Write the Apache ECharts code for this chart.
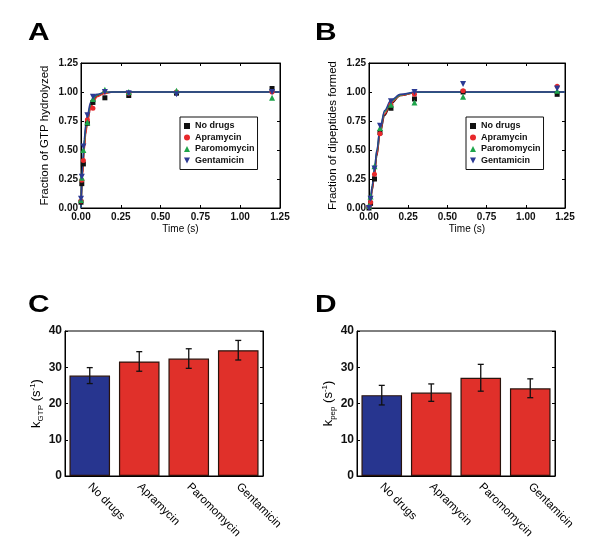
<!DOCTYPE html>
<html><head><meta charset="utf-8">
<script src="https://cdn.jsdelivr.net/npm/echarts@6/dist/echarts.min.js"></script>
<style>html,body{margin:0;padding:0;background:#fff}#c{width:600px;height:558px}</style>
</head><body><div id="c"></div>
<script>
// ---------- data ----------
const seriesNames = ['No drugs', 'Apramycin', 'Paromomycin', 'Gentamicin'];
const panelLetters = ['A', 'B', 'C', 'D'];
// Panel A: GTP hydrolysis time course
const timeA = [0, 0.005, 0.015, 0.04, 0.075, 0.15, 0.3, 0.6, 1.2];
const noDrugsA = [0.05, 0.21, 0.38, 0.73, 0.91, 0.95, 0.97, 0.99, 1.03];
const apramycinA = [0.06, 0.24, 0.41, 0.76, 0.86, 1.00, 0.99, 1.00, 1.00];
const paromomycinA = [0.07, 0.26, 0.50, 0.74, 0.94, 1.02, 1.00, 1.01, 0.95];
const gentamicinA = [0.08, 0.27, 0.53, 0.80, 0.96, 1.00, 0.99, 0.98, 1.00];
// fitted curves A
const fitTimeA = [0, 0.01, 0.02, 0.03, 0.04, 0.06, 0.08, 0.1, 0.15, 0.2, 0.3, 1.25];
const fitNoDrugsA = [0, 0.30, 0.52, 0.66, 0.75, 0.87, 0.93, 0.965, 0.993, 1, 1, 1];
const fitApramycinA = [0, 0.29, 0.50, 0.64, 0.74, 0.86, 0.92, 0.96, 0.99, 1, 1, 1];
const fitParomomycinA = [0, 0.34, 0.56, 0.69, 0.78, 0.89, 0.95, 0.975, 0.996, 1, 1, 1];
const fitGentamicinA = [0, 0.37, 0.59, 0.72, 0.80, 0.91, 0.96, 0.98, 0.997, 1, 1, 1];
// Panel B: dipeptide formation time course
const timeB = [0, 0.01, 0.035, 0.07, 0.14, 0.29, 0.6, 1.2];
const noDrugsB = [0.00, 0.04, 0.25, 0.65, 0.86, 0.94, 1.00, 0.98];
const apramycinB = [0.01, 0.05, 0.29, 0.64, 0.89, 0.98, 1.01, 1.05];
const paromomycinB = [0.02, 0.10, 0.36, 0.69, 0.89, 0.91, 0.96, 1.01];
const gentamicinB = [0.00, 0.08, 0.34, 0.71, 0.92, 1.00, 1.07, 1.03];
const fitTimeB = [0, 0.01, 0.02, 0.035, 0.05, 0.07, 0.1, 0.14, 0.2, 0.3, 1.25];
const fitNoDrugsB = [0, 0.06, 0.15, 0.29, 0.45, 0.64, 0.80, 0.90, 0.97, 0.997, 1];
const fitApramycinB = [0, 0.06, 0.16, 0.30, 0.46, 0.65, 0.81, 0.91, 0.97, 0.997, 1];
const fitParomomycinB = [0, 0.08, 0.19, 0.34, 0.49, 0.68, 0.83, 0.92, 0.975, 0.998, 1];
const fitGentamicinB = [0, 0.08, 0.19, 0.34, 0.50, 0.69, 0.84, 0.93, 0.98, 1, 1];
// Panels C, D: rates
const categories = ['No drugs', 'Apramycin', 'Paromomycin', 'Gentamicin'];
const kGTP = [27.7, 31.6, 32.4, 34.7];
const kGTPErr = [2.2, 2.7, 2.7, 2.7];
const kPep = [22.3, 23.0, 27.1, 24.2];
const kPepErr = [2.7, 2.4, 3.7, 2.6];
const timeTicks = [0, 0.25, 0.5, 0.75, 1.0, 1.25];
const fracTicks = [0, 0.25, 0.5, 0.75, 1.0, 1.25];
const rateTicks = [0, 10, 20, 30, 40];

// ---------- styling ----------
const FONT = 'Liberation Sans, Arial, Helvetica, sans-serif';
const colors = ['#111111', '#e8282b', '#1ea54b', '#2c3a94'];
const symbols = ['rect', 'circle', 'triangle', 'path://M0,0L10,0L5,10Z'];
const symSizes = [5, 5, 6, 6];
const barBlue = '#27358f', barRed = '#e0302a';

const grids = [
  {left: 81, top: 63, width: 199, height: 145},
  {left: 369, top: 63, width: 196, height: 145},
  {left: 65, top: 331, width: 198, height: 145},
  {left: 357, top: 331, width: 198, height: 145}
].map(g => Object.assign({show: true, borderColor: '#000', borderWidth: 1, containLabel: false}, g));

const lbl = {fontFamily: FONT, fontSize: 10, color: '#111', fontWeight: 'bold'};
const nameStyle = {fontFamily: FONT, fontSize: 11.5, color: '#000', fontWeight: 'normal'};
function fmt2(v) { return v.toFixed(2); }

function valAxis(opt) {
  return Object.assign({
    type: 'value', splitLine: {show: false},
    axisLine: {show: true, onZero: false, lineStyle: {color: '#000', width: 1}},
    axisTick: {show: true, inside: true, length: 3, lineStyle: {color: '#000'}},
    axisLabel: Object.assign({margin: 3}, lbl)
  }, opt);
}

const xAxis = [], yAxis = [];
// A & B
[0, 1].forEach(gi => {
  xAxis.push(valAxis({gridIndex: gi, position: 'bottom', min: timeTicks[0], max: timeTicks[timeTicks.length - 1], interval: 0.25,
    axisLabel: Object.assign({margin: 4, formatter: fmt2}, lbl),
    name: 'Time (s)', nameLocation: 'middle', nameGap: 16,
    nameTextStyle: Object.assign({}, nameStyle, {fontSize: 10})}));
  xAxis.push(valAxis({gridIndex: gi, position: 'top', min: 0, max: 1.25, interval: 0.25, axisLabel: {show: false}}));
  yAxis.push(valAxis({gridIndex: gi, position: 'left', min: fracTicks[0], max: fracTicks[fracTicks.length - 1], interval: 0.25,
    axisLabel: Object.assign({margin: 3, formatter: fmt2}, lbl),
    name: gi === 0 ? 'Fraction of GTP hydrolyzed' : 'Fraction of dipeptides formed',
    nameLocation: 'middle', nameRotate: 90, nameGap: 30, nameTextStyle: nameStyle}));
  yAxis.push(valAxis({gridIndex: gi, position: 'right', min: 0, max: 1.25, interval: 0.25, axisLabel: {show: false}}));
});
// C & D
[2, 3].forEach(gi => {
  xAxis.push({type: 'category', gridIndex: gi, data: categories, position: 'bottom',
    axisLine: {show: true, lineStyle: {color: '#000'}}, axisTick: {show: false},
    axisLabel: Object.assign({rotate: -45, margin: 9, interval: 0}, lbl, {fontWeight: 'normal', fontSize: 11.5, color: '#000'})});
  yAxis.push(valAxis({gridIndex: gi, position: 'left', min: rateTicks[0], max: rateTicks[rateTicks.length - 1], interval: 10,
    axisLabel: Object.assign({margin: 3}, lbl, {fontSize: 12}),
    name: gi === 2 ? 'k{sub|GTP} (s{sup|-1})' : 'k{sub|pep} (s{sup|-1})',
    nameLocation: 'middle', nameRotate: 90, nameGap: 15,
    nameTextStyle: Object.assign({}, nameStyle, {fontSize: 13, rich: {
      sub: {fontFamily: FONT, fontSize: 8, color: '#000', verticalAlign: 'bottom', lineHeight: 16},
      sup: {fontFamily: FONT, fontSize: 8, color: '#000', verticalAlign: 'top', lineHeight: 16}
    }})}));
  yAxis.push(valAxis({gridIndex: gi, position: 'right', min: 0, max: 40, interval: 10, axisLabel: {show: false}}));
});

const series = [];
const ptsA = [noDrugsA, apramycinA, paromomycinA, gentamicinA];
const fitsA = [fitNoDrugsA, fitApramycinA, fitParomomycinA, fitGentamicinA];
const ptsB = [noDrugsB, apramycinB, paromomycinB, gentamicinB];
const fitsB = [fitNoDrugsB, fitApramycinB, fitParomomycinB, fitGentamicinB];

function addCurves(xi, yi, tPts, pts, tFit, fits, tag) {
  fits.forEach((f, i) => {
    series.push({type: 'line', name: tag + ' fit ' + seriesNames[i], xAxisIndex: xi, yAxisIndex: yi,
      data: tFit.map((t, j) => [t, f[j]]), smooth: 0.35, smoothMonotone: 'x', showSymbol: false, symbol: 'none',
      lineStyle: {color: colors[i], width: 1.5}, z: 2, silent: true});
  });
  pts.forEach((p, i) => {
    series.push({type: 'scatter', name: seriesNames[i], xAxisIndex: xi, yAxisIndex: yi,
      data: tPts.map((t, j) => [t, p[j]]), symbol: symbols[i], symbolSize: symSizes[i],
      itemStyle: {color: colors[i], opacity: 1}, z: 3});
  });
}
addCurves(0, 0, timeA, ptsA, fitTimeA, fitsA, 'A');
addCurves(2, 2, timeB, ptsB, fitTimeB, fitsB, 'B');

function addBars(xi, yi, vals, errs) {
  series.push({type: 'bar', name: 'bars' + xi, xAxisIndex: xi, yAxisIndex: yi, barCategoryGap: '18%',
    data: vals.map((v, i) => ({value: v, itemStyle: {color: i === 0 ? barBlue : barRed}})),
    itemStyle: {borderColor: '#2a130c', borderWidth: 1.2}, z: 2});
  series.push({type: 'custom', name: 'err' + xi, xAxisIndex: xi, yAxisIndex: yi, z: 4,
    data: vals.map((v, i) => [i, v - errs[i], v + errs[i]]),
    renderItem: function (params, api) {
      const lo = api.coord([api.value(0), api.value(1)]);
      const hi = api.coord([api.value(0), api.value(2)]);
      const cap = 3;
      const st = {stroke: '#111', lineWidth: 1.3};
      return {type: 'group', children: [
        {type: 'line', shape: {x1: lo[0], y1: lo[1], x2: hi[0], y2: hi[1]}, style: st},
        {type: 'line', shape: {x1: lo[0] - cap, y1: lo[1], x2: lo[0] + cap, y2: lo[1]}, style: st},
        {type: 'line', shape: {x1: hi[0] - cap, y1: hi[1], x2: hi[0] + cap, y2: hi[1]}, style: st}
      ]};
    }});
}
addBars(4, 4, kGTP, kGTPErr);
addBars(5, 6, kPep, kPepErr);

const legendBase = {
  orient: 'vertical', itemWidth: 6, itemHeight: 6, itemGap: 1.5, padding: [4, 3, 4, 4],
  borderColor: '#111', borderWidth: 1, backgroundColor: '#fff',
  textStyle: {fontFamily: FONT, fontSize: 9, color: '#111', fontWeight: 'bold', lineHeight: 10},
  data: seriesNames.map((n, i) => ({name: n, icon: symbols[i]})), selectedMode: false
};

const letterPos = [[28, 22], [315, 22], [28, 294], [315, 294]];
const option = {
  animation: false,
  backgroundColor: '#fff',
  graphic: panelLetters.map((L, i) => ({
    type: 'text', x: letterPos[i][0], y: letterPos[i][1], scaleX: 1.3,
    style: {text: L, fontFamily: FONT, fontSize: 23, fontWeight: 'bold', fill: '#000'}
  })),
  legend: [
    Object.assign({left: 180, top: 117}, legendBase),
    Object.assign({left: 466, top: 117}, legendBase)
  ],
  grid: grids,
  xAxis: xAxis,
  yAxis: yAxis,
  series: series
};
const chart = echarts.init(document.getElementById('c'), null, {renderer: 'canvas'});
chart.setOption(option);
</script></body></html>
